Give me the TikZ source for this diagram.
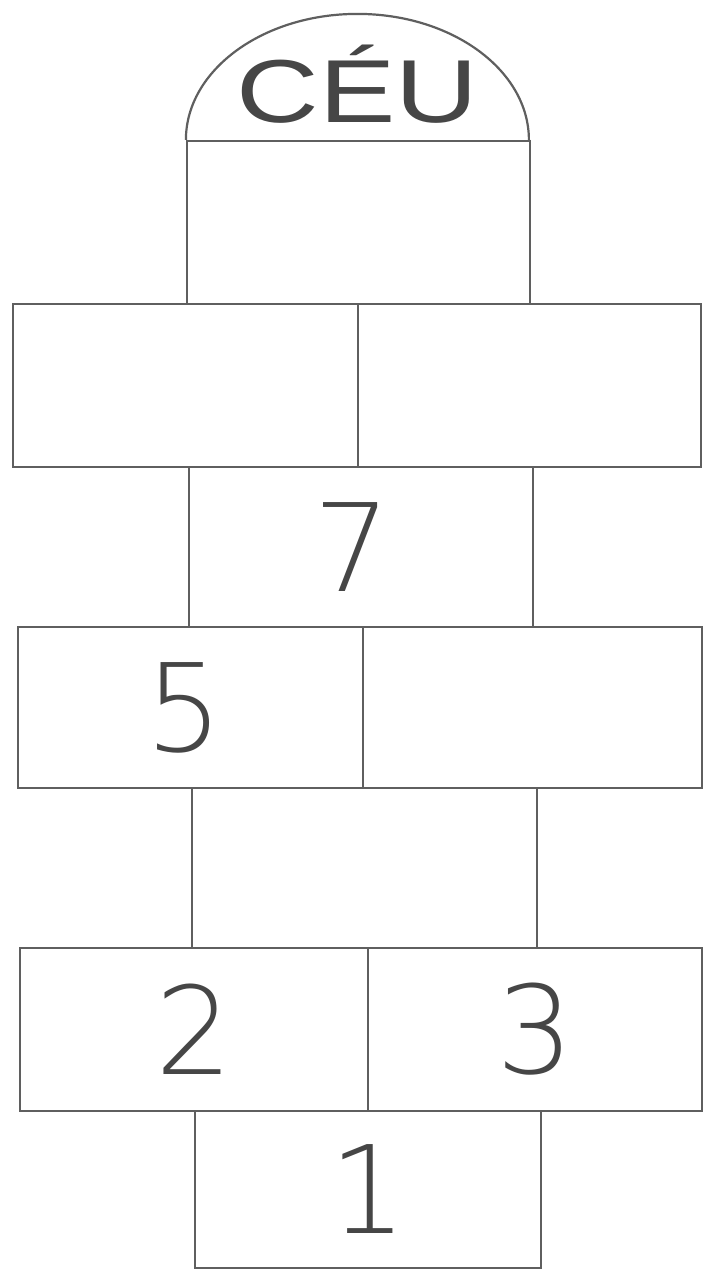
\documentclass[tikz,border=0pt]{standalone}
\usepackage{fontspec}
\setmainfont{Liberation Sans}
\newfontfamily\digitfont{DejaVu Sans ExtraLight}
\usepackage{graphicx}
\usepackage{tikz}
\usetikzlibrary{positioning}
\definecolor{chalk}{RGB}{95,95,95}
\definecolor{ink}{RGB}{70,70,70}
% sizes in pt are half the pixel sizes (x=0.5pt)
\tikzset{
  square/.style={draw=chalk, line width=1.1pt, minimum width=172.5pt, minimum height=81pt,
                 inner sep=0pt, font=\digitfont\fontsize{61}{61}\selectfont, text=ink},
}

\begin{document}
\begin{tikzpicture}[x=0.5pt,y=-0.5pt]
    \useasboundingbox (0,0) rectangle (704,1269);
    \fill[white] (0,0) rectangle (704,1269);
    \node[square, minimum width=173pt, minimum height=78.5pt] (sq1) at (368,1189.5) {1};
    \node[square, minimum width=174pt, minimum height=81.5pt] (sq2) at (194,1029.5) {2};
    \node[square, minimum width=167pt, minimum height=81.5pt] (sq3) at (535,1029.5) {3};
    \node[square, minimum height=80pt] (sq4) at (364.5,868) {};
    \node[square, minimum height=80.5pt] (sq5) at (190.5,707.5) {\hspace*{-6pt}5};
    \node[square, minimum width=169.5pt, minimum height=80.5pt] (sq6) at (532.5,707.5) {};
    \node[square, minimum width=172pt, minimum height=80pt] (sq7) at (361,547) {\hspace*{-9pt}7};
    \node[square, minimum height=81.5pt] (sq8) at (185.5,385.5) {};
    \node[square, minimum width=171.5pt, minimum height=81.5pt] (sq9) at (529.5,385.5) {};
    \node[square, minimum width=171.5pt, minimum height=81.5pt] (sq10) at (358.5,222.5) {};
    \draw[chalk, line width=1.1pt] (sq10.north west) arc[start angle=180, end angle=360, x radius=171.5, y radius=126];
    \node[font=\fontsize{44.7}{44.7}\selectfont, text=ink] (ceu) at (357.5,84) {\scalebox{1.28}[1]{CÉU}};
\end{tikzpicture}
\end{document}
